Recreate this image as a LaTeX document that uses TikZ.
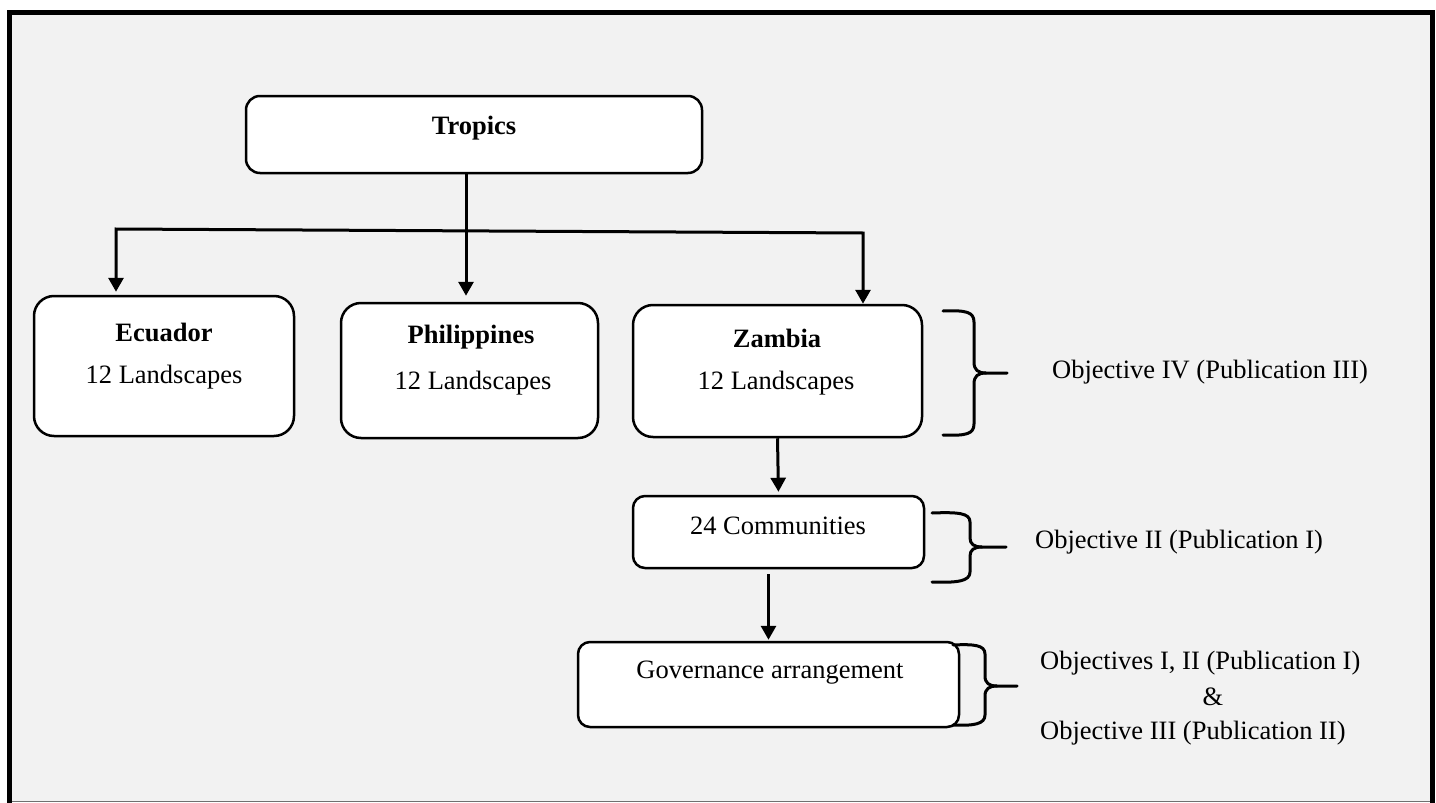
\documentclass[tikz,border=0pt]{standalone}
\usepackage{fontspec}
\setmainfont{Liberation Serif}
\usetikzlibrary{arrows.meta}
\definecolor{panel}{HTML}{F2F2F2}
\definecolor{rule}{HTML}{707070}
\tikzset{
  boxbig/.style={draw=black, fill=white, line width=2.5pt, rounded corners=20pt, inner sep=0pt},
  boxsmall/.style={draw=black, fill=white, line width=2.5pt, rounded corners=12pt, inner sep=0pt},
  txt/.style={inner sep=0pt, font=\fontsize{26.5}{32}\selectfont},
  ttl/.style={inner sep=0pt, font=\fontsize{26.5}{32}\selectfont\bfseries},
  link/.style={line width=3pt, -{Triangle[width=15pt,length=14pt]}},
  bracket/.style={line width=3pt, line cap=round, line join=round}
}
\begin{document}
\begin{tikzpicture}[x=1pt, y=-1pt]
\useasboundingbox (0,0) rectangle (1436,803);
% page frame
\fill[white] (0,0) rectangle (1436,803);
\fill[panel] (9.5,12.5) rectangle (1432.5,801.5);
\draw[rule, line width=1.5pt] (12,801.5) -- (1430,801.5);
\draw[line width=5pt] (9.5,803) -- (9.5,12.5) -- (1432.5,12.5) -- (1432.5,803);

% boxes
\node[boxsmall, rounded corners=14pt, minimum width=456pt, minimum height=77pt] (tropics) at (474,134.5) {};
\node[boxbig, minimum width=260pt, minimum height=140pt] (ecu) at (164,366) {};
\node[boxbig, minimum width=257pt, minimum height=135pt] (phil) at (469.5,370.5) {};
\node[boxbig, minimum width=289pt, minimum height=132pt] (zam) at (777.5,371) {};
\node[boxsmall, minimum width=291pt, minimum height=72pt] (comm) at (778.5,532) {};
\node[boxsmall, minimum width=381pt, minimum height=85pt] (gov) at (768.5,684.5) {};

% box texts
\node[ttl] (tropicsT) at (474,128) {Tropics};
\node[ttl] (ecuT) at (164,332) {Ecuador};
\node[txt] (ecuL) at (164,377) {12 Landscapes};
\node[ttl] (philT) at (471,337) {Philippines};
\node[txt] (philL) at (473,383) {12 Landscapes};
\node[ttl] (zamT) at (777,338) {Zambia};
\node[txt] (zamL) at (776,383) {12 Landscapes};
\node[txt] (commT) at (778,526) {24 Communities};
\node[txt] (govT) at (770,673) {Governance arrangement};

% objective labels
\node[txt, anchor=west] (obj4) at (1052,372) {Objective IV (Publication III)};
\node[txt, anchor=west] (obj2) at (1035,542) {Objective II (Publication I)};
\node[txt, anchor=west] (obj12) at (1040,663) {Objectives I, II (Publication I)};
\node[txt] (objamp) at (1213,697) {\&};
\node[txt, anchor=west] (obj3) at (1040,733) {Objective III (Publication II)};

% connectors
\coordinate (bl) at (116,229);
\coordinate (br) at (863,233);
\draw[link, shorten >=6pt] (tropics.south -| 466,0) -- (phil.north -| 466,0);
\draw[line width=3pt, line join=miter, {Triangle[width=15pt,length=14pt]}-{Triangle[width=15pt,length=14pt]}, shorten <=3pt]
  (bl |- ecu.north) -- (bl) -- (br) -- (br |- zam.north);
\draw[link, shorten >=3pt] (zam.south) -- (comm.north);
\draw[link, shorten <=5pt, shorten >=1pt] (comm.south -| gov.north) -- (gov.north);

% braces
\draw[bracket] (943,311) .. controls (966,310) and (974,312) .. (974,322) -- (974,362)
  .. controls (974,370) and (978,373) .. (986,373) -- (1007,373);
\draw[bracket] (943,435) .. controls (966,436) and (974,434) .. (974,424) -- (974,384)
  .. controls (974,376) and (978,373) .. (986,373);
\draw[bracket] (932,513) .. controls (958,512) and (970,513) .. (970,522) -- (970,538)
  .. controls (970,544) and (974,547) .. (982,547) -- (1006,547);
\draw[bracket] (932,582) .. controls (958,583) and (970,581) .. (970,572) -- (970,556)
  .. controls (970,550) and (974,547) .. (982,547);
\draw[bracket] (953,645) .. controls (974,644) and (985,645) .. (985,654) -- (985,676)
  .. controls (985,683) and (989,686) .. (997,686) -- (1017,686);
\draw[bracket] (953,725) .. controls (974,726) and (985,724) .. (985,715) -- (985,696)
  .. controls (985,689) and (989,686) .. (997,686);
\end{tikzpicture}
\end{document}
